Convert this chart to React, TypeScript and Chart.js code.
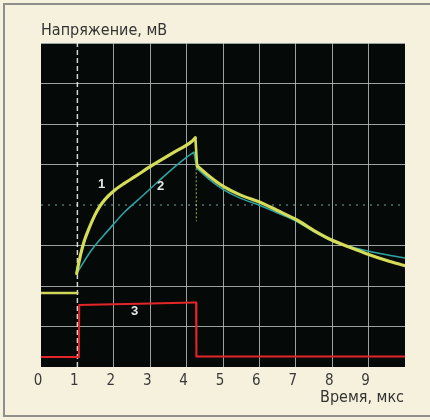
import React, { useEffect, useRef } from "react";
import { Chart, registerables } from "chart.js";

Chart.register(...registerables);

const xTicks = [0, 1, 2, 3, 4, 5, 6, 7, 8, 9];
const yTitle = "Напряжение, мВ";
const xTitle = "Время, мкс";

// Curve 1 (yellow)
const yellowPre = [
  { x: 0, y: 1.83 },
  { x: 1, y: 1.83 },
];
const yellowRise = [
  { x: 0.98, y: 2.31 },
  { x: 1.05, y: 2.62 },
  { x: 1.12, y: 2.89 },
  { x: 1.2, y: 3.14 },
  { x: 1.3, y: 3.38 },
  { x: 1.48, y: 3.75 },
  { x: 1.62, y: 3.97 },
  { x: 1.76, y: 4.14 },
  { x: 2.03, y: 4.37 },
  { x: 2.3, y: 4.54 },
  { x: 2.58, y: 4.7 },
  { x: 3.04, y: 4.97 },
  { x: 3.59, y: 5.27 },
  { x: 4.0, y: 5.48 },
  { x: 4.14, y: 5.57 },
  { x: 4.24, y: 5.66 },
];
const yellowFall = [
  { x: 4.31, y: 4.95 },
  { x: 4.64, y: 4.7 },
  { x: 5.01, y: 4.46 },
  { x: 5.47, y: 4.25 },
  { x: 6.02, y: 4.07 },
  { x: 6.48, y: 3.87 },
  { x: 7.03, y: 3.63 },
  { x: 7.5, y: 3.37 },
  { x: 8.0, y: 3.13 },
  { x: 8.5, y: 2.95 },
  { x: 9.0, y: 2.78 },
  { x: 9.5, y: 2.63 },
  { x: 10, y: 2.5 },
];
const yellowDrop = [
  { x: 4.26, y: 5.6 },
  { x: 4.27, y: 3.6 },
];
const yellowLink = [
  { x: 4.24, y: 5.66 },
  { x: 4.29, y: 4.95 },
  { x: 4.31, y: 4.95 },
];

// Curve 2 (cyan)
const cyanRise = [
  { x: 0.98, y: 2.31 },
  { x: 1.39, y: 2.89 },
  { x: 1.85, y: 3.38 },
  { x: 2.31, y: 3.84 },
  { x: 2.77, y: 4.21 },
  { x: 3.22, y: 4.58 },
  { x: 3.68, y: 4.95 },
  { x: 4.14, y: 5.27 },
  { x: 4.2, y: 5.3 },
];
const cyanFall = [
  { x: 4.28, y: 4.91 },
  { x: 4.64, y: 4.62 },
  { x: 5.01, y: 4.38 },
  { x: 5.47, y: 4.17 },
  { x: 6.02, y: 3.99 },
  { x: 6.48, y: 3.81 },
  { x: 7.03, y: 3.59 },
  { x: 7.5, y: 3.34 },
  { x: 8.0, y: 3.11 },
  { x: 8.5, y: 2.97 },
  { x: 9.0, y: 2.86 },
  { x: 9.5, y: 2.77 },
  { x: 10, y: 2.69 },
];
const cyanLink = [
  { x: 4.2, y: 5.3 },
  { x: 4.28, y: 4.91 },
];

// Curve 3 (red)
const redMain = [
  { x: 0, y: 0.25 },
  { x: 1.04, y: 0.25 },
  { x: 1.05, y: 1.53 },
  { x: 2, y: 1.55 },
  { x: 3, y: 1.57 },
  { x: 4.22, y: 1.59 },
  { x: 4.26, y: 1.59 },
  { x: 4.27, y: 0.26 },
  { x: 10, y: 0.26 },
];

// Reference lines
const triggerLine = [
  { x: 1, y: 0 },
  { x: 1, y: 8 },
];
const centerLine = [
  { x: 0, y: 4 },
  { x: 10, y: 4 },
];

const curveLabels = [
  { text: "1", left: 98, top: 176 },
  { text: "2", left: 157, top: 178 },
  { text: "3", left: 131, top: 303 },
];

const FONT = '"Liberation Sans Narrow", "DejaVu Sans Condensed", "Roboto", sans-serif';

export default function App() {
  const ref = useRef<HTMLCanvasElement>(null);

  useEffect(() => {
    if (!ref.current) return;
    const bgPlugin = {
      id: "plotBg",
      beforeDraw(chart: any) {
        const { ctx, chartArea } = chart;
        ctx.save();
        ctx.fillStyle = "#050908";
        ctx.fillRect(chartArea.left, chartArea.top, chartArea.right - chartArea.left, chartArea.bottom - chartArea.top);
        ctx.restore();
      },
    };
    const line = (data: any[], color: string, width: number, extra: any = {}) => ({
      data,
      borderColor: color,
      backgroundColor: color,
      borderWidth: width,
      pointRadius: 0,
      fill: false,
      tension: 0,
      borderCapStyle: "round",
      borderJoinStyle: "round",
      ...extra,
    });
    const YEL = "#d4dc58";
    const CYA = "#2fa4a4";
    const chart = new Chart(ref.current, {
      type: "line",
      data: {
        datasets: [
          line(triggerLine, "rgba(235,235,235,0.9)", 1.5, { borderDash: [5, 3], order: 10, borderCapStyle: "butt" }),
          line(centerLine, "rgba(150,200,200,0.8)", 1.2, { borderDash: [2, 5], order: 10, borderCapStyle: "butt" }),
          line(redMain, "#e4262a", 2, { order: 3, borderJoinStyle: "miter", borderCapStyle: "butt" }),
          line(yellowPre, "#cfd85a", 2.5, { order: 2 }),
          line(yellowDrop, "rgba(200,210,80,0.7)", 1.2, { borderDash: [2, 2], order: 2, borderCapStyle: "butt" }),
          line(cyanLink, CYA, 1.6, { order: 1 }),
          line(cyanRise, CYA, 1.6, { cubicInterpolationMode: "monotone", order: 1 }),
          line(cyanFall, CYA, 1.6, { cubicInterpolationMode: "monotone", order: 1 }),
          line(yellowLink, YEL, 2.6, { order: 0 }),
          line(yellowRise, YEL, 3.2, { cubicInterpolationMode: "monotone", order: 0 }),
          line(yellowFall, YEL, 3.2, { cubicInterpolationMode: "monotone", order: 0 }),
        ],
      },
      options: {
        responsive: false,
        animation: false,
        events: [],
        layout: { padding: { left: 41, top: 43, right: 25, bottom: 23 } },
        plugins: { legend: { display: false }, tooltip: { enabled: false }, title: { display: false } },
        scales: {
          x: {
            type: "linear",
            min: 0,
            max: 10,
            border: { display: false },
            grid: {
              drawTicks: false,
              lineWidth: 1,
              color: (c: any) => {
                const v = c.tick?.value;
                if (v === 0 || v === 10 || v === 1) return "rgba(0,0,0,0)";
                return "rgba(190,200,200,0.8)";
              },
            },
            ticks: {
              stepSize: 1,
              padding: 5,
              labelOffset: -3,
              color: "#3a3a3a",
              font: { family: FONT, size: 15 },
              callback: (v: any) => (xTicks.includes(Number(v)) ? String(v) : ""),
            },
            afterFit: (s: any) => {
              s.height = 30;
            },
          },
          y: {
            type: "linear",
            min: 0,
            max: 8,
            border: { display: false },
            grid: {
              drawTicks: false,
              lineWidth: 1,
              color: (c: any) => {
                const v = c.tick?.value;
                if (v === 0 || v === 4) return "rgba(0,0,0,0)";
                return "rgba(190,200,200,0.8)";
              },
            },
            ticks: { display: false, stepSize: 1 },
            afterFit: (s: any) => {
              s.width = 0;
            },
          },
        },
      },
      plugins: [bgPlugin],
    } as any);
    return () => chart.destroy();
  }, []);

  return (
    <div style={{ position: "fixed", left: 0, top: 0, width: 430, height: 420, background: "#f6f1dc", overflow: "hidden" }}>
      <div
        style={{
          position: "absolute",
          left: 3,
          top: 3,
          width: 440,
          height: 414,
          borderLeft: "2px solid #8e8e8a",
          borderTop: "2px solid #8e8e8a",
          borderBottom: "2px solid #8e8e8a",
          boxSizing: "border-box",
        }}
      />
      <canvas ref={ref} width={430} height={420} style={{ position: "absolute", left: 0, top: 0 }} />
      <span
        style={{
          position: "absolute",
          left: 41,
          top: 20,
          fontFamily: FONT,
          fontSize: 16,
          color: "#333",
          whiteSpace: "nowrap",
          lineHeight: "20px",
        }}
      >
        {yTitle}
      </span>
      <span
        style={{
          position: "absolute",
          right: 26,
          top: 387,
          fontFamily: FONT,
          fontSize: 16,
          color: "#333",
          whiteSpace: "nowrap",
          lineHeight: "20px",
        }}
      >
        {xTitle}
      </span>
      {curveLabels.map((l) => (
        <span
          key={l.text}
          style={{
            position: "absolute",
            left: l.left,
            top: l.top,
            fontFamily: "Arial, Liberation Sans, sans-serif",
            fontWeight: "bold",
            fontSize: 13,
            color: "#e8e8e8",
            lineHeight: "16px",
          }}
        >
          {l.text}
        </span>
      ))}
    </div>
  );
}
